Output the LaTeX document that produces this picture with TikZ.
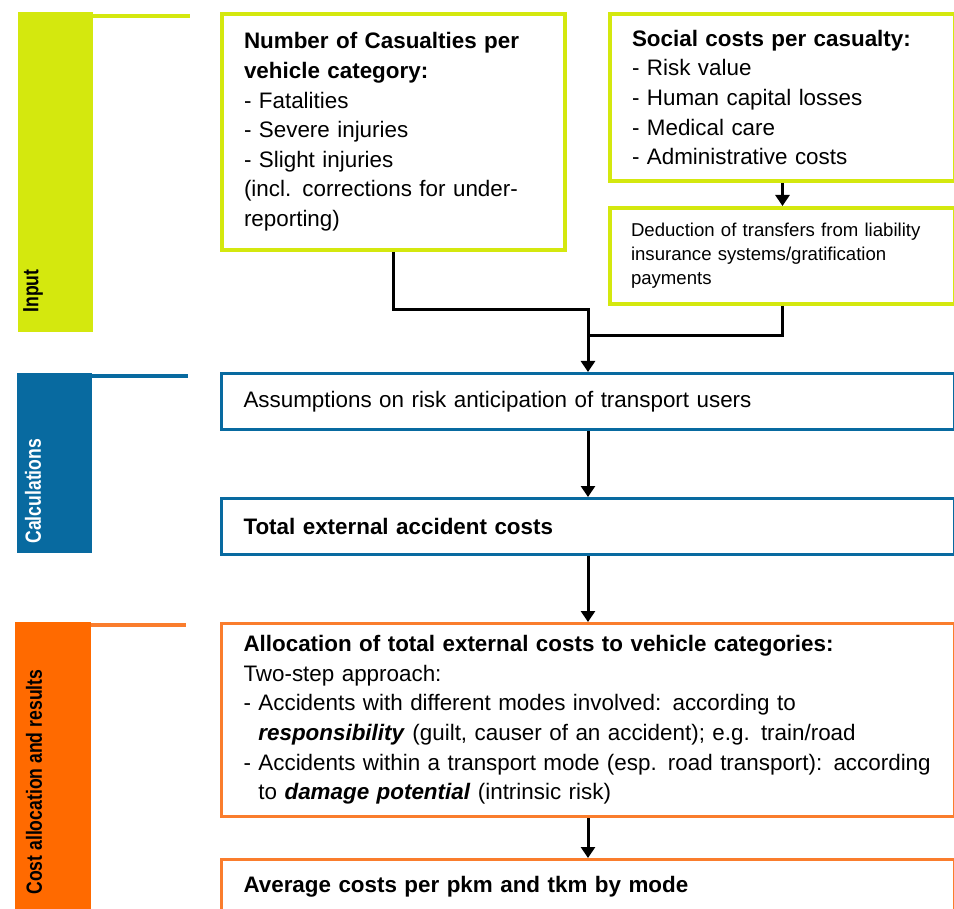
\documentclass[tikz,border=0pt]{standalone}
\usepackage{fontspec}
\setmainfont{Liberation Sans}
\usepackage{graphicx}
\usepackage{xcolor}
\usepackage{tikz}
\usetikzlibrary{arrows.meta}
\definecolor{inputgreen}{RGB}{212,232,14}
\definecolor{calcblue}{RGB}{8,106,160}
\definecolor{costorange}{RGB}{255,106,0}
\definecolor{costline}{RGB}{250,125,45}
\tikzstyle{box} = [rectangle, draw, line width=1.5pt, fill=white, anchor=north west, align=left, inner xsep=11pt, inner ysep=4pt, font=\fontsize{11.2}{14.8}\selectfont]
\tikzstyle{inputbox} = [box, draw=inputgreen, line width=2pt]
\tikzstyle{calcbox} = [box, draw=calcblue]
\tikzstyle{costbox} = [box, draw=costline]
\tikzstyle{sidebar} = [rectangle, anchor=north west, inner sep=0pt]
\tikzstyle{barlabel} = [anchor=west, rotate=90, inner sep=0pt, font=\bfseries\fontsize{11}{13}\selectfont]
\tikzstyle{arrow} = [line width=1.5pt, -{Triangle[width=7pt,length=5.5pt]}]
\tikzstyle{connector} = [line width=1.5pt]
\newcommand{\narrowtext}[1]{\scalebox{0.8}[1]{#1}}
\begin{document}
\begin{tikzpicture}[x=0.5pt, y=-0.5pt]
		\clip (0,0) rectangle (954,909);
		% side bars
		\node (inputbar)[sidebar, fill=inputgreen, minimum width=37.5pt, minimum height=160pt] at (18,12) {};
		\draw [inputgreen, line width=2pt] (93,16) -- (190,16);
		\node (inputlab)[barlabel] at (33,313) {\narrowtext{Input}};
		\node (calcbar)[sidebar, fill=calcblue, minimum width=37.5pt, minimum height=90pt] at (17,373) {};
		\draw [calcblue, line width=2pt] (92,376) -- (188,376);
		\node (calclab)[barlabel, text=white] at (33,544) {\narrowtext{Calculations}};
		\node (costbar)[sidebar, fill=costorange, minimum width=38pt, minimum height=150pt] at (15,622) {};
		\draw [costline, line width=2pt] (91,625) -- (186,625);
		\node (costlab)[barlabel] at (34,895) {\narrowtext{Cost allocation and results}};
		% input boxes
		\node (casualties)[inputbox, minimum width=171.5pt, minimum height=118pt, text width=149.5pt] at (220,12) {\textbf{Number of Casualties per}\\\textbf{vehicle category:}\\- Fatalities\\- Severe injuries\\- Slight injuries\\(incl. corrections for under-\\reporting)};
		\node (socialcost)[inputbox, minimum width=172.5pt, minimum height=83.5pt, text width=150.5pt] at (608,12) {\textbf{Social costs per casualty:}\\- Risk value\\- Human capital losses\\- Medical care\\- Administrative costs};
		\node (deduction)[inputbox, minimum width=172.5pt, minimum height=48pt, text width=151.5pt, inner xsep=10.5pt, font=\fontsize{9.3}{12}\selectfont] at (608,206) {Deduction of transfers from liability\\insurance systems/gratification\\payments};
		% calculation boxes
		\node (assumptions)[calcbox, minimum width=366.5pt, minimum height=28pt, text width=344.5pt] at (220,372) {Assumptions on risk anticipation of transport users};
		\node (total)[calcbox, minimum width=366.5pt, minimum height=28pt, text width=344.5pt] at (220,497) {\textbf{Total external accident costs}};
		% allocation and results
		\node (allocation)[costbox, minimum width=366.5pt, minimum height=96.5pt, text width=344.5pt] at (220,622) {\textbf{Allocation of total external costs to vehicle categories:}\\Two-step approach:\\- Accidents with different modes involved: according to\\\phantom{- }\textbf{\textit{responsibility}} (guilt, causer of an accident); e.g. train/road\\- Accidents within a transport mode (esp. road transport): according\\\phantom{- }to \textbf{\textit{damage potential}} (intrinsic risk)};
		\node (average)[costbox, minimum width=366.5pt, minimum height=27pt, text width=344.5pt] at (220,858) {\textbf{Average costs per pkm and tkm by mode}};
		% connectors
		\coordinate (join) at ([yshift=31pt]assumptions.north);
		\coordinate (merge) at ([yshift=18pt]assumptions.north);
		\draw [arrow] (casualties.south) |- (join) -- (assumptions.north);
		\draw [connector] (deduction.south) |- (merge);
		\draw [arrow] (socialcost.south) -- (deduction.north);
		\draw [arrow] (assumptions.south) -- (total.north);
		\draw [arrow] (total.south) -- (allocation.north);
		\draw [arrow] (allocation.south) -- (average.north);
	\end{tikzpicture}
\end{document}
